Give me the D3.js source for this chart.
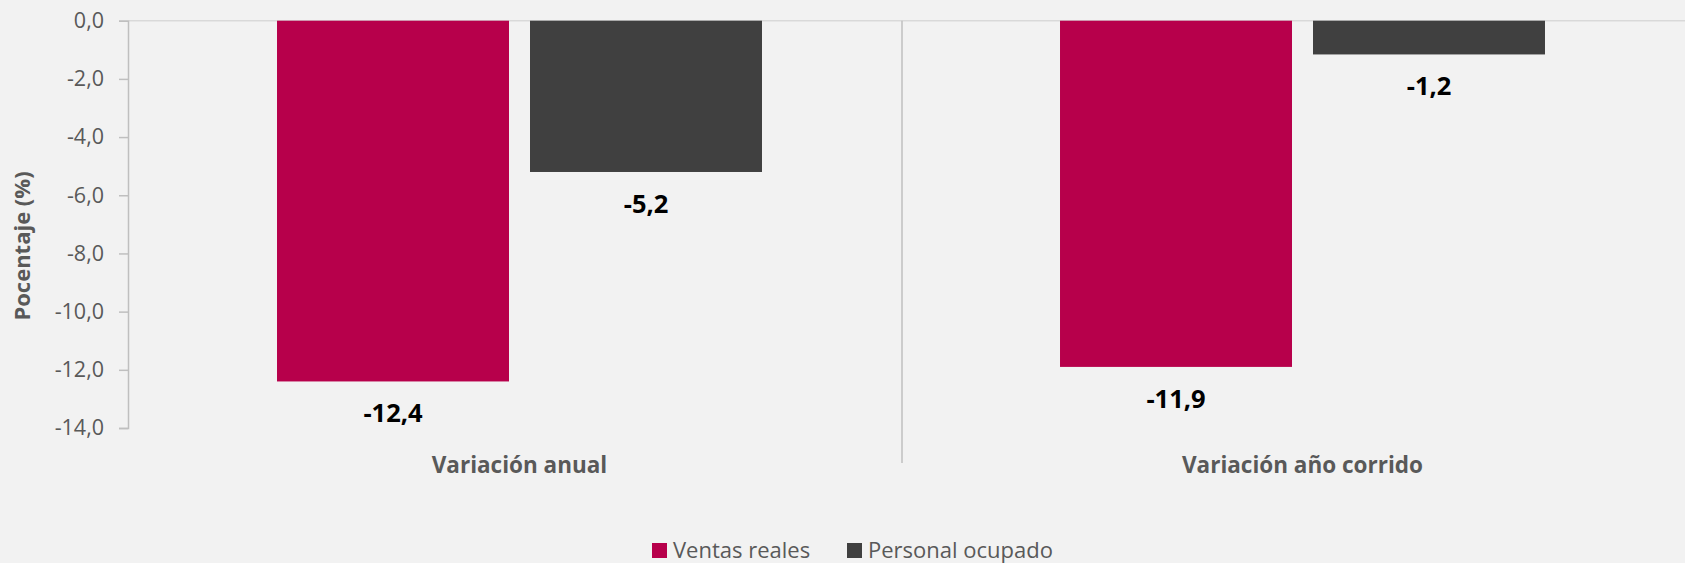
<!DOCTYPE html>
<html>
<head>
<meta charset="utf-8">
<script src="https://cdn.jsdelivr.net/npm/d3@7"></script>
<style>
    html, body { margin: 0; padding: 0; background: #f2f2f2; }
    svg { display: block; font-family: 'Segoe UI', 'Open Sans', sans-serif; }
</style>
</head>
<body>
<div id="chart"></div>
<script>
var categories = ['Variación anual', 'Variación año corrido'];
var series = ['Ventas reales', 'Personal ocupado'];
var ventasReales = [-12.4, -11.9];
var personalOcupado = [-5.2, -1.16];
var yTicks = [0, -2, -4, -6, -8, -10, -12, -14];
var colors = ['#b7004b', '#404040'];

var width = 1685,
    height = 563;

var plotLeft = 128,
    plotRight = 1694,
    plotTop = 20.7,
    plotBottom = 428;

var svg = d3.select('#chart').append('svg')
    .attr('width', width)
    .attr('height', height);

svg.append('rect')
    .attr('width', width)
    .attr('height', height)
    .attr('fill', '#f2f2f2');

var data = categories.map(function(c, i) {
    return {category: c, values: [
        {key: series[0], value: ventasReales[i]},
        {key: series[1], value: personalOcupado[i]}
    ]};
});

var xScale = d3.scaleBand()
    .domain(categories)
    .range([plotLeft, plotRight]);

var xSub = d3.scaleBand()
    .domain(series)
    .range([0, xScale.bandwidth()])
    .paddingInner(0.083)
    .paddingOuter(0.589);

var yScale = d3.scaleLinear()
    .domain([-14, 0])
    .range([plotBottom, plotTop]);

var color = d3.scaleOrdinal()
    .domain(series)
    .range(colors);

var fmt = function(d) { return d.toFixed(1).replace('.', ','); };

// zero line across the plot
svg.append('line')
    .attr('x1', plotLeft)
    .attr('x2', width)
    .attr('y1', yScale(0))
    .attr('y2', yScale(0))
    .attr('stroke', '#d9d9d9')
    .attr('stroke-width', 1.5);

// y axis
var yaxis = d3.axisLeft(yScale)
    .tickValues(yTicks)
    .tickSize(9)
    .tickPadding(15)
    .tickFormat(fmt);

var gy = svg.append('g')
    .attr('transform', 'translate(' + plotLeft + ',0)')
    .call(yaxis);

gy.select('.domain').attr('stroke', '#bfbfbf').attr('stroke-width', 1.5);
gy.selectAll('.tick line').attr('stroke', '#bfbfbf').attr('stroke-width', 1.5);
gy.selectAll('.tick text')
    .attr('fill', '#595959')
    .attr('font-size', '21.5px')
    .attr('font-family', "'Segoe UI', 'Open Sans', sans-serif");

svg.append('text')
    .attr('transform', 'translate(30,246) rotate(-90)')
    .attr('text-anchor', 'middle')
    .attr('font-size', '22px')
    .attr('font-weight', 'bold')
    .attr('fill', '#595959')
    .text('Pocentaje (%)');

// divider between categories
svg.append('line')
    .attr('x1', xScale(categories[1]) - 9)
    .attr('x2', xScale(categories[1]) - 9)
    .attr('y1', plotTop)
    .attr('y2', 463)
    .attr('stroke', '#bfbfbf')
    .attr('stroke-width', 1.5);

var groups = svg.selectAll('.group')
    .data(data)
    .enter().append('g')
    .attr('class', 'group')
    .attr('transform', function(d) { return 'translate(' + xScale(d.category) + ',0)'; });

groups.selectAll('rect')
    .data(function(d) { return d.values; })
    .enter().append('rect')
    .attr('x', function(d) { return xSub(d.key); })
    .attr('y', yScale(0))
    .attr('width', xSub.bandwidth())
    .attr('height', function(d) { return yScale(d.value) - yScale(0); })
    .attr('fill', function(d) { return color(d.key); });

groups.selectAll('.label')
    .data(function(d) { return d.values; })
    .enter().append('text')
    .attr('class', 'label')
    .attr('x', function(d) { return xSub(d.key) + xSub.bandwidth() / 2; })
    .attr('y', function(d) { return yScale(d.value) + 41; })
    .attr('text-anchor', 'middle')
    .attr('font-size', '25.5px')
    .attr('font-weight', 'bold')
    .attr('fill', '#000')
    .text(function(d) { return fmt(d.value); });

groups.append('text')
    .attr('x', xScale.bandwidth() / 2)
    .attr('y', 473)
    .attr('text-anchor', 'middle')
    .attr('font-size', '22.5px')
    .attr('font-weight', 'bold')
    .attr('fill', '#595959')
    .text(function(d) { return d.category; });

// legend
var legendX = [652, 847];

var legend = svg.selectAll('.legend')
    .data(series)
    .enter().append('g')
    .attr('class', 'legend')
    .attr('transform', function(d, i) { return 'translate(' + legendX[i] + ',543)'; });

legend.append('rect')
    .attr('width', 15)
    .attr('height', 15)
    .attr('fill', function(d) { return color(d); });

legend.append('text')
    .attr('x', 21)
    .attr('y', 15)
    .attr('font-size', '22px')
    .attr('fill', '#595959')
    .text(function(d) { return d; });
</script>
</body>
</html>
